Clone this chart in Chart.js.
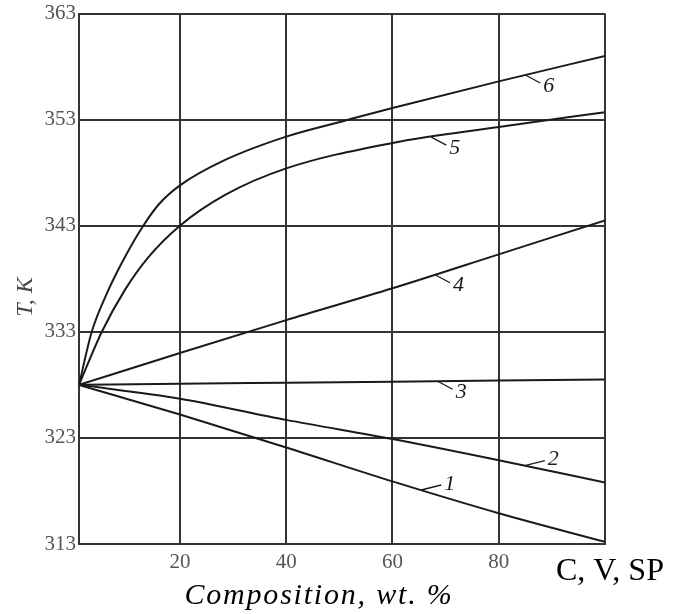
<!DOCTYPE html>
<html>
<head>
<meta charset="utf-8">
<script src="https://cdn.jsdelivr.net/npm/chart.js@4.4.1/dist/chart.umd.min.js"></script>
<style>
  body { margin: 0; background: #fff; }
  canvas { display: block; }
</style>
</head>
<body>
<canvas id="chart" width="675" height="614"></canvas>
<script>
// composition, wt. % (same x for the straight lines 1-4)
const compX = [1, 20, 40, 60, 80, 100];
const curve1 = [328, 325.2, 322.1, 318.9, 315.9, 313.2];
const curve2 = [328, 326.7, 324.7, 322.9, 320.9, 318.8];
const curve3 = [328, 328.1, 328.2, 328.3, 328.4, 328.5];
const curve4 = [328, 331.0, 334.1, 337.1, 340.3, 343.5];

// curves 5 and 6 bend near the start, so more points there
const curve5X = [1, 5.3, 9.7, 14, 20, 28.5, 40, 60, 80, 100];
const curve5 = [328, 333, 337, 340, 343, 345.9, 348.4, 350.8, 352.3, 353.7];
const curve6X = [1, 3.4, 6.5, 9.7, 13.1, 16, 20, 28.5, 40, 51, 60, 80, 100];
const curve6 = [328, 333, 336.9, 340.1, 343, 345.0, 346.8, 349.2, 351.4, 352.9, 354.1, 356.6, 359.0];

const xTickValues = [20, 40, 60, 80];
const yTickValues = [313, 323, 333, 343, 353, 363];

// curve number and the composition where its label leader starts
const curveNames = ['1', '2', '3', '4', '5', '6'];
const labelAtX = [65.4, 84.9, 68.5, 68, 67.3, 85];

const serif = '"Liberation Serif", "Times New Roman", serif';
const ink = '#1a1a1a';
const gridInk = '#333';

function toPoints(xs, ys) {
  return xs.map((x, i) => ({ x: x, y: ys[i] }));
}

function lineSet(xs, ys) {
  return {
    data: toPoints(xs, ys),
    borderColor: ink,
    borderWidth: 2,
    pointRadius: 0,
    cubicInterpolationMode: 'monotone',
    fill: false
  };
}

function valueAt(xs, ys, x) {
  for (let i = 1; i < xs.length; i++) {
    if (x <= xs[i]) {
      const t = (x - xs[i - 1]) / (xs[i] - xs[i - 1]);
      return ys[i - 1] + t * (ys[i] - ys[i - 1]);
    }
  }
  return ys[ys.length - 1];
}

const allX = [compX, compX, compX, compX, curve5X, curve6X];
const allY = [curve1, curve2, curve3, curve4, curve5, curve6];

const textPlugin = {
  id: 'texts',
  afterDraw(chart) {
    const ctx = chart.ctx;
    const sx = chart.scales.x;
    const sy = chart.scales.y;
    ctx.save();

    // curve labels with short leaders
    ctx.strokeStyle = ink;
    ctx.fillStyle = ink;
    ctx.lineWidth = 1.3;
    ctx.font = 'italic 22px ' + serif;
    ctx.textAlign = 'left';
    ctx.textBaseline = 'middle';
    curveNames.forEach((name, i) => {
      const px = sx.getPixelForValue(labelAtX[i]);
      const py = sy.getPixelForValue(valueAt(allX[i], allY[i], labelAtX[i]));
      const up = i < 2;
      const ex = px + (up ? 20 : 15);
      const ey = py + (up ? -5 : 8);
      ctx.beginPath();
      ctx.moveTo(px, py);
      ctx.lineTo(ex, ey);
      ctx.stroke();
      ctx.fillText(name, ex + 3, ey + (up ? -1 : 3));
    });

    // axis titles
    ctx.fillStyle = '#000';
    ctx.font = 'italic 30px ' + serif;
    ctx.textAlign = 'center';
    ctx.textBaseline = 'alphabetic';
    ctx.letterSpacing = '1.8px';
    ctx.fillText('Composition, wt. %', 319, 604);
    ctx.letterSpacing = '0px';

    ctx.font = '32px ' + serif;
    ctx.textAlign = 'left';
    ctx.fillText('C, V, SP', 556, 580);

    ctx.fillStyle = '#444';
    ctx.font = 'italic 24px ' + serif;
    ctx.translate(26, 297);
    ctx.rotate(-Math.PI / 2);
    ctx.textAlign = 'center';
    ctx.textBaseline = 'middle';
    ctx.fillText('T, K', 0, 0);

    ctx.restore();
  }
};

function drawChart(canvas) {
  new Chart(canvas, {
    type: 'line',
    data: {
      datasets: allX.map((xs, i) => lineSet(xs, allY[i]))
    },
    options: {
      responsive: false,
      animation: false,
      layout: { padding: { top: 0, right: 70, left: 0, bottom: 0 } },
      plugins: { legend: { display: false }, tooltip: { enabled: false } },
      scales: {
        x: {
          type: 'linear',
          min: compX[0],
          max: 100,
          afterBuildTicks: s => {
            s.ticks = [s.min].concat(xTickValues, [s.max]).map(v => ({ value: v }));
          },
          afterFit: s => { s.height = 70; },
          grid: { color: gridInk, lineWidth: 2, drawTicks: false },
          border: { display: true, color: gridInk, width: 2 },
          ticks: {
            autoSkip: false,
            maxRotation: 0,
            padding: 6,
            color: '#555',
            font: { family: serif, size: 21 },
            callback: v => xTickValues.includes(v) ? String(v) : ''
          }
        },
        y: {
          type: 'linear',
          min: yTickValues[0],
          max: yTickValues[yTickValues.length - 1],
          afterBuildTicks: s => {
            s.ticks = yTickValues.map(v => ({ value: v }));
          },
          afterFit: s => { s.width = 79; },
          grid: { color: gridInk, lineWidth: 2, drawTicks: false },
          border: { display: true, color: gridInk, width: 2 },
          ticks: {
            padding: 3,
            color: '#555',
            font: { family: serif, size: 21, lineHeight: 1.0 }
          }
        }
      }
    },
    plugins: [textPlugin]
  });
}

drawChart(document.getElementById('chart'));
</script>
</body>
</html>
